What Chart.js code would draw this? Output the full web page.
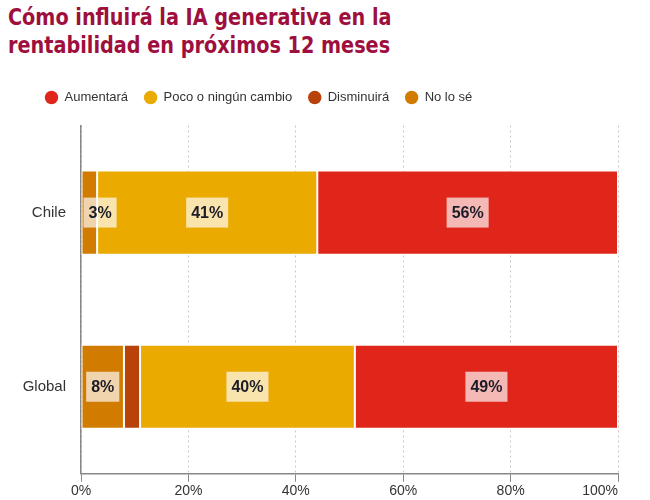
<!DOCTYPE html>
<html>
<head>
<meta charset="utf-8">
<script src="https://cdn.jsdelivr.net/npm/chart.js@4.4.1/dist/chart.umd.min.js"></script>
<style>
  html, body { margin: 0; padding: 0; background: #fff; }
  #wrap { position: relative; width: 650px; height: 500px; }
  #title {
    position: absolute; left: 8px; top: 3px; margin: 0;
    font-family: 'DejaVu Sans Condensed', 'DejaVu Sans', sans-serif;
    font-weight: bold; font-size: 23px; line-height: 28px;
    color: #9E0F3E;
    transform: scaleX(0.93); transform-origin: 0 0;
    white-space: nowrap;
  }
  canvas { position: absolute; left: 0; top: 0; }
</style>
</head>
<body>
<div id="wrap">
  <h1 id="title">Cómo influirá la IA generativa en la<br>rentabilidad en próximos 12 meses</h1>
  <canvas id="chart" width="650" height="500"></canvas>
</div>
<script>
const categories = ['Chile', 'Global'];
const noLoSe = [3, 8];
const disminuira = [0, 3];
const pocoCambio = [41, 40];
const aumentara = [56, 49];
const xTicks = [0, 20, 40, 60, 80, 100];

const FONT = "'Liberation Sans', Arial, sans-serif";

// value boxes drawn on top of the segments
const valueLabels = {
  id: 'valueLabels',
  afterDatasetsDraw(chart) {
    const ctx = chart.ctx;
    ctx.save();
    ctx.font = 'bold 16px ' + FONT;
    ctx.textAlign = 'center';
    ctx.textBaseline = 'middle';
    chart.data.datasets.forEach((ds, i) => {
      if (ds.noLabel) return;
      chart.getDatasetMeta(i).data.forEach((bar, j) => {
        const v = ds.data[j];
        if (!v) return;
        const text = v + '%';
        const w = ctx.measureText(text).width + 10;
        const h = 30;
        let x = (bar.x + bar.base) / 2;
        x = Math.max(x, bar.base + 2 + w / 2);
        ctx.fillStyle = 'rgba(255,255,255,0.68)';
        ctx.fillRect(x - w / 2, bar.y - h / 2, w, h);
        ctx.fillStyle = '#1c1c28';
        ctx.fillText(text, x, bar.y + 1);
      });
    });
    ctx.restore();
  }
};

// legend sits a bit to the right and leaves a gap above the plot
const legendPlace = {
  id: 'legendPlace',
  beforeLayout(chart) {
    const lg = chart.legend;
    if (lg && !lg._patched) {
      const fit = lg.fit;
      lg.fit = function () {
        fit.call(this);
        this.height += 11.5;
      };
      lg._patched = true;
    }
  },
  afterLayout(chart) {
    const lg = chart.legend;
    if (lg) {
      lg.left += 29;
      lg.right += 29;
    }
  },
  beforeDraw(chart) {
    // last x label ends at its tick instead of being centred
    const items = chart.scales.x.getLabelItems(chart.chartArea);
    if (items.length) items[items.length - 1].options.textAlign = 'right';
  }
};

const baseLabels = Chart.defaults.plugins.legend.labels.generateLabels;

new Chart(document.getElementById('chart'), {
  type: 'bar',
  data: {
    labels: categories,
    datasets: [
      { label: 'No lo sé', data: noLoSe, backgroundColor: '#D17B00' },
      { label: 'Disminuirá', data: disminuira, backgroundColor: '#B8420A', noLabel: true },
      { label: 'Poco o ningún cambio', data: pocoCambio, backgroundColor: '#EBAA00' },
      { label: 'Aumentará', data: aumentara, backgroundColor: '#E0261A' }
    ]
  },
  options: {
    indexAxis: 'y',
    responsive: false,
    animation: false,
    datasets: {
      bar: {
        categoryPercentage: 1,
        barPercentage: 0.483,
        borderColor: '#ffffff',
        borderWidth: 1,
        borderSkipped: false
      }
    },
    layout: { padding: { top: 75, left: 0, right: 32, bottom: 0 } },
    scales: {
      x: {
        stacked: true,
        min: 0,
        max: 100,
        afterBuildTicks: (scale) => { scale.ticks = xTicks.map(v => ({ value: v })); },
        grid: {
          color: '#c8c8c8',
          tickColor: '#888',
          tickBorderDash: [],
          tickLength: 8
        },
        border: { color: '#888', width: 1.5, dash: [2, 3] },
        ticks: {
          padding: 0,
          color: '#333',
          font: { family: FONT, size: 14, lineHeight: 1.3 },
          callback: (v) => v + '%'
        }
      },
      y: {
        stacked: true,
        afterFit: (scale) => { scale.width = 81; },
        grid: { display: false, drawTicks: false },
        border: { color: '#888', width: 1.5 },
        ticks: {
          padding: 15,
          color: '#333',
          font: { family: FONT, size: 15 }
        }
      }
    },
    plugins: {
      tooltip: { enabled: false },
      legend: {
        position: 'top',
        align: 'start',
        reverse: true,
        labels: {
          usePointStyle: true,
          pointStyle: 'circle',
          boxWidth: 13,
          boxHeight: 9.5,
          padding: 16,
          color: '#333',
          font: { family: FONT, size: 13 },
          generateLabels: (chart) => baseLabels(chart).map(l => {
            l.strokeStyle = l.fillStyle;
            l.lineWidth = 0;
            return l;
          })
        }
      }
    }
  },
  plugins: [valueLabels, legendPlace]
});
</script>
</body>
</html>
